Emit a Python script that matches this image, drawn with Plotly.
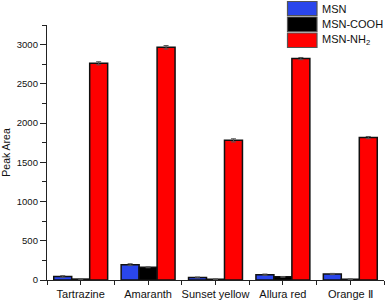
import plotly.graph_objects as go

categories = ["Tartrazine", "Amaranth", "Sunset yellow", "Allura red", "Orange \u2161"]
series_names = ["MSN", "MSN-COOH", "MSN-NH<sub>2</sub>"]
msn = [45, 195, 32, 68, 76]
msn_err = [10, 12, 6, 8, 8]
cooh = [12, 162, 10, 40, 10]
cooh_err = [4, 6, 4, 5, 4]
nh2 = [2762, 2966, 1780, 2822, 1815]
nh2_err = [20, 22, 20, 14, 14]
colors = ["#2A46EC", "#000000", "#FF0000"]

W, H = 392, 301
L, R, T, B = 47, 8, 25, 21
x = list(range(len(categories)))

fig = go.Figure()
for vals, errs, name, col in zip([msn, cooh, nh2], [msn_err, cooh_err, nh2_err], series_names, colors):
    fig.add_trace(go.Bar(
        x=x, y=vals, name=name,
        marker=dict(color=col, line=dict(color="#111111", width=1.5)),
        error_y=dict(type="data", array=errs, color="#555555", thickness=1, width=2.5),
        showlegend=False,
    ))

# custom legend (boxes + labels) in paper coordinates
def px_to_py(ypx):
    return (H - B - ypx) / (H - T - B)
def px_to_px(xpx):
    return (xpx - L) / (W - L - R)

rows = [(1.5, 15.5), (17, 31.5), (33, 47.5)]
for (y0, y1), name, col in zip(rows, series_names, colors):
    fig.add_shape(type="rect", xref="paper", yref="paper",
                  x0=px_to_px(287.5), x1=px_to_px(317), y0=px_to_py(y1), y1=px_to_py(y0),
                  fillcolor=col, line=dict(color="#555555", width=1.2))
    fig.add_annotation(xref="paper", yref="paper", x=px_to_px(319.5), y=px_to_py((y0 + y1) / 2),
                       text=name, showarrow=False, xanchor="left", yanchor="middle",
                       font=dict(size=11, color="#111111"))

fig.update_layout(
    width=W, height=H,
    margin=dict(l=L, r=R, t=T, b=B, autoexpand=False),
    plot_bgcolor="white", paper_bgcolor="white",
    font=dict(family="Liberation Sans, Arial, sans-serif", color="#111111"),
    barmode="group", bargap=0.2, bargroupgap=0,
    showlegend=False,
)
fig.update_xaxes(
    range=[-0.5, 4.5], tickvals=x, ticktext=categories, automargin=False,
    tickfont=dict(size=11), ticks="outside", ticklen=4, tickcolor="#222222",
    minor=dict(tickvals=[i - 0.5 for i in range(len(categories) + 1)], ticks="outside",
               ticklen=4, tickcolor="#222222"),
    showline=True, linecolor="#222222", linewidth=1.3, showgrid=False, zeroline=False,
)
fig.update_yaxes(
    range=[0, 3250], dtick=500, tick0=0, automargin=False,
    tickfont=dict(size=9.5), ticks="outside", ticklen=6, tickcolor="#222222",
    minor=dict(dtick=250, ticks="outside", ticklen=4, tickcolor="#222222"),
    showline=True, linecolor="#222222", linewidth=1.3, showgrid=False, zeroline=False,
    title=dict(text="Peak Area", font=dict(size=10.5), standoff=8),
)

fig.write_html("out.html", config={"displayModeBar": False},
               post_script="document.body.style.margin='0';")
